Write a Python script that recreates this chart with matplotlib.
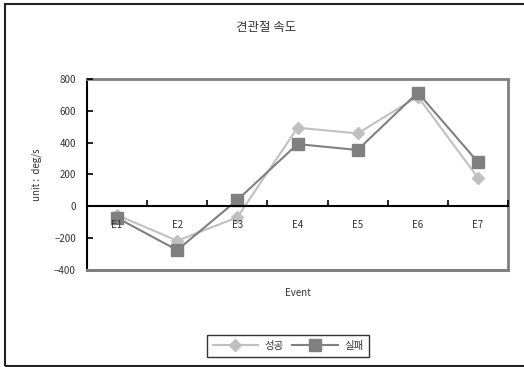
import matplotlib
matplotlib.use("Agg")
import matplotlib.pyplot as plt
from matplotlib.patches import Rectangle
from matplotlib.ticker import FixedLocator, NullFormatter

plt.rcParams['font.family'] = ['Noto Sans CJK KR', 'DejaVu Sans']

categories = ["E1", "E2", "E3", "E4", "E5", "E6", "E7"]
success = [-55, -216, -69, 494, 458, 690, 180]
failure = [-72, -275, 40, 391, 354, 715, 278]
y_ticks = [-400, -200, 0, 200, 400, 600, 800]

title = "견관절 속도"
y_label = "unit :  deg/s"
x_label = "Event"
series_names = ["성공", "실패"]

light = "#c0c0c0"
dark = "#808080"
text_color = "#333333"

fig = plt.figure(figsize=(5.24, 3.67), dpi=100)
ax = fig.add_axes([87 / 524, 1 - 270 / 367, 421 / 524, 191 / 367])
ax.set_axisbelow(False)

x = list(range(len(categories)))
l1, = ax.plot(x, success, color=light, lw=1.5, marker="D", markersize=6.5,
              markeredgecolor=light, markerfacecolor=light, label=series_names[0], zorder=1.8)
l2, = ax.plot(x, failure, color=dark, lw=1.5, marker="s", markersize=9,
              markeredgecolor=dark, markerfacecolor=dark, label=series_names[1], zorder=1.9)

ax.set_xlim(-0.5, len(categories) - 0.5)
ax.set_ylim(y_ticks[0], y_ticks[-1])
ax.set_yticks(y_ticks)
ax.set_yticklabels([str(v).replace("-", "\u2212") for v in y_ticks])

# category axis sits on the zero line
ax.spines['bottom'].set_position(('data', 0))
ax.spines['bottom'].set_color('black')
ax.spines['bottom'].set_linewidth(1.5)
ax.spines['left'].set_color('black')
ax.spines['left'].set_linewidth(1.5)
for s in ('top', 'right'):
    ax.spines[s].set_color(dark)
    ax.spines[s].set_linewidth(2)
ax.axhline(y_ticks[0], color=dark, lw=2.2, clip_on=False, zorder=5)

ax.xaxis.set_major_locator(FixedLocator([i + 0.5 for i in x]))
ax.xaxis.set_major_formatter(NullFormatter())
ax.set_xticks(x, categories, minor=True)
ax.tick_params(axis='x', which='major', direction='in', length=4, width=1.2, color='black')
ax.tick_params(axis='x', which='minor', length=0, pad=10, labelsize=7, labelcolor=text_color)
ax.tick_params(axis='y', direction='in', length=4, width=1.2, color='black',
               labelsize=7, labelcolor=text_color, pad=8)

ax.set_ylabel(y_label, fontsize=7, color=text_color, labelpad=9)
ax.set_xlabel(x_label, fontsize=7, color=text_color)
ax.xaxis.set_label_coords(0.5, -0.095)

fig.text(266 / 524, 1 - 27 / 367, title, ha='center', va='center', fontsize=9, color=text_color)

leg = fig.legend(handles=[l1, l2], loc='center', bbox_to_anchor=(288 / 524, 1 - 346 / 367),
                 ncol=2, fontsize=7.5, frameon=True, fancybox=False, edgecolor='black',
                 handlelength=4.4, columnspacing=0.8, handletextpad=0.6, borderpad=0.55,
                 labelcolor=text_color)
leg.get_frame().set_linewidth(1.0)

fig.patches.append(Rectangle((5 / 524, 1 - 366 / 367), 1.2, (366 - 4) / 367,
                             transform=fig.transFigure, fill=False, edgecolor='#222222',
                             lw=1.5, clip_on=False))

fig.savefig("out.png", dpi=100)
